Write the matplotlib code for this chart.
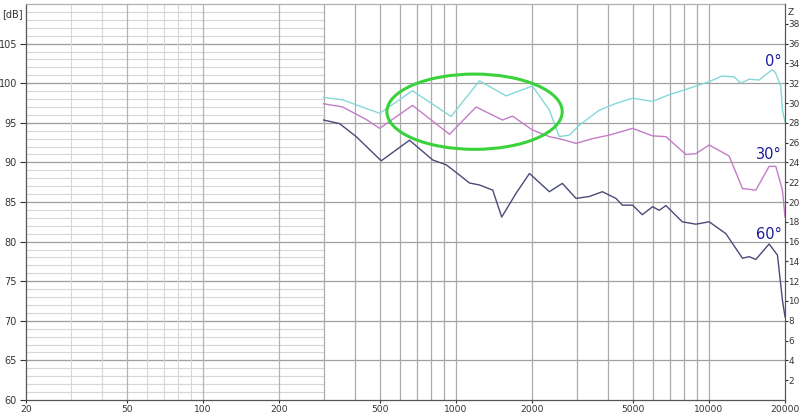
import numpy as np
import matplotlib
matplotlib.use("Agg")
import matplotlib.pyplot as plt
from matplotlib.patches import Ellipse

# 0 degree response
freq_0 = [300, 357, 443, 500, 674, 958, 1240, 1580, 2007, 2343, 2566, 2810, 3078,
          3693, 4296, 4995, 5991, 6975, 8364, 10030, 11290, 12590, 13380, 14430,
          15800, 17790, 18350, 19250, 19540, 20000]
spl_0 = [98.2, 97.9, 96.8, 96.2, 99.05, 95.8, 100.3, 98.4, 99.65, 96.6, 93.25, 93.45,
         94.7, 96.6, 97.45, 98.1, 97.7, 98.55, 99.35, 100.2, 100.9, 100.8, 100.0, 100.5,
         100.4, 101.7, 101.3, 99.6, 96.6, 95.1]

# 30 degree response
freq_30 = [300, 357, 443, 500, 674, 944, 1203, 1528, 1674, 2007, 2343, 2636, 2986,
           3464, 4044, 4995, 5991, 6768, 8118, 8890, 10030, 12030, 13580, 15340,
           17310, 18390, 19540, 20000]
spl_30 = [97.4, 97.0, 95.4, 94.3, 97.2, 93.55, 97.0, 95.35, 95.85, 94.1, 93.25, 92.9,
          92.4, 93.0, 93.45, 94.3, 93.35, 93.25, 91.0, 91.1, 92.2, 90.8, 86.7, 86.5,
          89.5, 89.5, 86.5, 83.1]

# 60 degree response
freq_60 = [300, 347, 404, 507, 656, 811, 916, 1034, 1132, 1240, 1399, 1518, 1730,
           1954, 2343, 2636, 2986, 3371, 3795, 4296, 4550, 4995, 5458, 5991, 6368,
           6768, 7850, 8890, 10030, 11680, 13580, 14430, 15340, 17310, 18670, 19540,
           20000]
spl_60 = [95.35, 94.9, 93.25, 90.2, 92.8, 90.3, 89.7, 88.4, 87.4, 87.15, 86.5, 83.1,
          86.1, 88.6, 86.3, 87.35, 85.45, 85.7, 86.3, 85.45, 84.6, 84.6, 83.4, 84.4,
          83.95, 84.55, 82.5, 82.2, 82.5, 81.0, 77.9, 78.1, 77.75, 79.7, 78.3, 72.6,
          70.5]

x_ticks = [20, 50, 100, 200, 500, 1000, 2000, 5000, 10000, 20000]
db_ticks = [60, 65, 70, 75, 80, 85, 90, 95, 100, 105]
z_ticks = list(range(2, 40, 2))

series = [
    (freq_0, spl_0, "#84d8d8", "0°", 101.8),
    (freq_30, spl_30, "#c47cc8", "30°", 90.0),
    (freq_60, spl_60, "#4a4a78", "60°", 80.0),
]

fig = plt.figure(figsize=(8, 4.16), dpi=100)
ax = fig.add_axes([26 / 800, 16 / 416, 759 / 800, 396 / 416])
ax.set_xscale("log")
ax.set_xlim(20, 20000)
ax.set_ylim(60, 110)

# grid: fine dB lines only in the low region
ax.hlines(np.arange(61, 110), 20, 300, color="#d6d6d6", lw=0.8, zorder=0)
ax.hlines(np.arange(65, 110, 5), 20, 20000, color="#a0a0a0", lw=0.9, zorder=0)
light_v = [30, 40, 60, 70, 80, 90]
dark_v = [50, 100, 200]
right_v = [300, 400, 500, 600, 700, 800, 900, 1000, 2000, 3000, 4000, 5000,
           6000, 7000, 8000, 9000, 10000]
ax.vlines(light_v, 60, 110, color="#d6d6d6", lw=0.8, zorder=0)
ax.vlines(dark_v, 60, 110, color="#b4b4b4", lw=0.9, zorder=0)
ax.vlines(right_v, 60, 110, color="#ababab", lw=0.9, zorder=0)

for f, s, c, lab, ly in series:
    ax.plot(f, s, color=c, lw=1.0, zorder=3)
    ax.text(19400, ly, lab, color="#1c1c9c", fontsize=10.5,
            ha="right", va="bottom", zorder=4)

ell = Ellipse((0.591, 0.728), 0.231, 0.19, transform=ax.transAxes,
              fill=False, edgecolor="#3ad23a", lw=2.2, zorder=5)
ax.add_patch(ell)

for sp in ax.spines.values():
    sp.set_color("#b0b0b0")
    sp.set_linewidth(0.9)
ax.spines["left"].set_color("#555555")
ax.spines["bottom"].set_color("#555555")

ax.set_xticks(x_ticks)
ax.set_xticklabels([str(v) for v in x_ticks])
ax.xaxis.set_minor_locator(matplotlib.ticker.NullLocator())
ax.set_yticks(db_ticks)
ax.set_yticklabels([str(v) for v in db_ticks])
ax.tick_params(axis="both", labelsize=7, colors="#333333", width=0.8)
ax.tick_params(axis="x", length=2, pad=1.5, labelsize=6.6)
ax.tick_params(axis="y", length=4, pad=2.5)
ax.text(-0.004, 0.988, "[dB]", transform=ax.transAxes, ha="right", va="top",
        fontsize=7, color="#333333")

ax2 = ax.twinx()
ax2.set_ylim(0, 40)
ax2.set_yticks(z_ticks)
ax2.set_yticklabels([str(v) for v in z_ticks])
ax2.tick_params(axis="y", labelsize=6.4, colors="#333333", length=2, width=0.8, pad=0.5)
for sp in ax2.spines.values():
    sp.set_visible(False)
ax2.spines["right"].set_visible(True)
ax2.spines["right"].set_color("#555555")
ax2.text(1.004, 0.99, "Z", transform=ax2.transAxes, ha="left", va="top",
         fontsize=6.6, color="#333333")

fig.savefig("out.png", dpi=100, facecolor="white")
